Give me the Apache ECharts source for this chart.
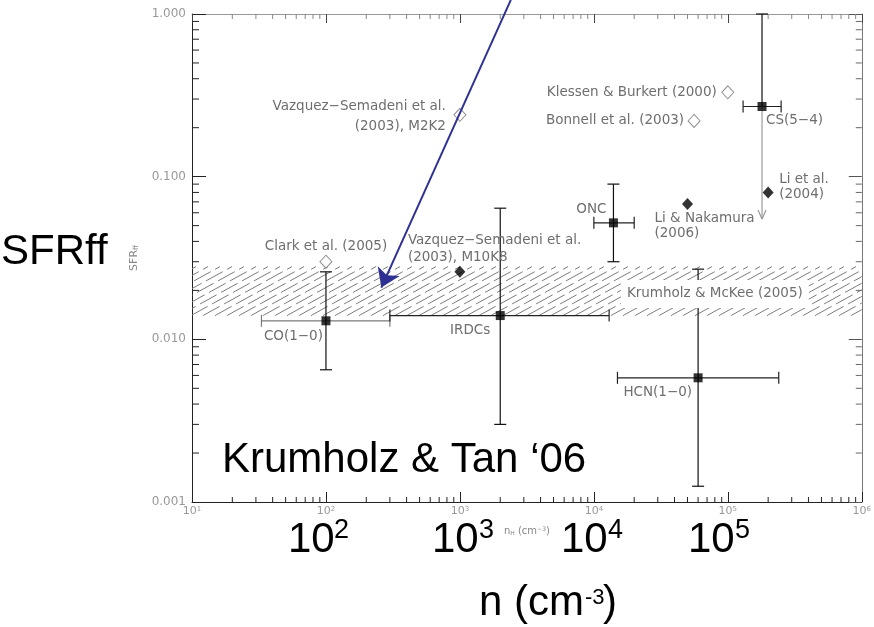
<!DOCTYPE html>
<html>
<head>
<meta charset="utf-8">
<script src="https://cdn.jsdelivr.net/npm/echarts@6/dist/echarts.min.js"></script>
<style>
  html, body { margin: 0; padding: 0; background: #fff; }
  #chart { width: 874px; height: 627px; }
</style>
</head>
<body>
<div id="chart"></div>
<script>
// ---- axis ticks -------------------------------------------------------
const xTickValues = [10, 100, 1000, 10000, 100000, 1000000];
const yTickValues = [0.001, 0.01, 0.1, 1];

// ---- observed clouds (filled squares with ranges) ---------------------
const obsNames     = ['CO(1−0)', 'IRDCs', 'ONC', 'HCN(1−0)', 'CS(5−4)'];
const obsN         = [100, 2000, 14000, 60000, 180000];
const obsSfr       = [0.013, 0.014, 0.052, 0.0058, 0.27];
const obsNLow      = [33, 300, 10000, 15000, 130000];
const obsNHigh     = [300, 13000, 20000, 240000, 250000];
const obsSfrLow    = [0.0065, 0.003, 0.03, 0.00125, 0.055];
const obsSfrHigh   = [0.026, 0.064, 0.09, 0.027, 1.0];
const obsUpperOnly = [false, false, false, false, true];

// ---- simulations, filled diamonds -------------------------------------
const simNames = ['Vazquez−Semadeni et al.\n(2003), M10K8', 'Li & Nakamura\n(2006)', 'Li et al.\n(2004)'];
const simN     = [1000, 50000, 200000];
const simSfr   = [0.026, 0.068, 0.08];

// ---- simulations, open diamonds ---------------------------------------
const openNames = ['Vazquez−Semadeni et al.\n(2003), M2K2', 'Klessen & Burkert (2000)', 'Bonnell et al. (2003)', 'Clark et al. (2005)'];
const openN     = [1000, 100000, 56000, 100];
const openSfr   = [0.24, 0.33, 0.22, 0.03];

// ---- Krumholz & McKee (2005) prediction band --------------------------
const bandName = 'Krumholz & McKee (2005)';
const bandSfr  = [0.014, 0.028];
const bandLabelPoint = [80000, 0.019];

// ---- highlighted arrow ------------------------------------------------
const arrowFrom = [2400, 1.22];
const arrowTo   = [259, 0.0208];

// ---- label placement (pixel offsets from each marker) ------------------
const labelLayout = {
  'CO(1−0)':                 { dx: -3,  dy: 16,  align: 'right' },
  'IRDCs':                   { dx: -10, dy: 15,  align: 'right' },
  'ONC':                     { dx: -7,  dy: -13, align: 'right' },
  'HCN(1−0)':                { dx: -6,  dy: 15,  align: 'right' },
  'CS(5−4)':                 { dx: 4,   dy: 14,  align: 'left' },
  'Vazquez−Semadeni et al.\n(2003), M10K8': { dx: -52, dy: -23, align: 'left', lh: 16.5 },
  'Li & Nakamura\n(2006)':   { dx: -33, dy: 22,  align: 'left', lh: 15.5 },
  'Li et al.\n(2004)':       { dx: 11,  dy: -5,  align: 'left', lh: 15 },
  'Vazquez−Semadeni et al.\n(2003), M2K2': { dx: -14, dy: 2, align: 'right', lh: 20 },
  'Klessen & Burkert (2000)': { dx: -11, dy: 0, align: 'right' },
  'Bonnell et al. (2003)':   { dx: -10, dy: 0,   align: 'right' },
  'Clark et al. (2005)':     { dx: 0,   dy: -15, align: 'center' }
};

const LABEL_FONT = '"DejaVu Sans", sans-serif';
const BIG_FONT = '"Liberation Sans", Arial, sans-serif';
const LABEL_COLOR = '#6e6e6e';
const LABEL_SIZE = 13.5;

// minor tick values (2..9 within each decade)
function minorTicks(decades) {
  const out = [];
  decades.forEach(d => { for (let m = 2; m <= 9; m++) out.push(m * d); });
  return out;
}
const xMinor = minorTicks(xTickValues.slice(0, -1));
const yMinor = minorTicks(yTickValues.slice(0, -1));

function seg(x1, y1, x2, y2, style) {
  return { type: 'line', shape: { x1, y1, x2, y2 }, style };
}

// diagonal dashed hatching filling the band across the plot width
function renderHatch(params, api) {
  const cs = params.coordSys;
  const top = api.coord([api.value(0), api.value(3)])[1];
  const bot = api.coord([api.value(0), api.value(1)])[1];
  const x0 = cs.x, x1 = cs.x + cs.width;
  const slope = 0.55, step = 12;
  const stretch = Math.sqrt(1 + slope * slope);
  const run = (bot - top) / slope;
  const children = [];
  for (let c = x0 - run + 4; c < x1; c += step) {
    let ax = c, ay = bot, bx = c + run, by = top;
    if (ax < x0) { ay = bot - (x0 - c) * slope; ax = x0; }
    if (bx > x1) { by = bot - (x1 - c) * slope; bx = x1; }
    if (bx <= ax) continue;
    // keep the dash phase of every stroke anchored at the band's lower edge
    children.push(seg(ax, ay, bx, by, {
      stroke: '#7c7c7c', lineWidth: 1, lineDash: [19, 5],
      lineDashOffset: (ax - c) * stretch
    }));
  }
  return { type: 'group', children };
}

// error bars: horizontal density range, vertical SFR range
function renderErrors(params, api) {
  const i = params.dataIndex;
  const c = api.coord([api.value(0), api.value(1)]);
  const l = api.coord([api.value(2), api.value(1)]);
  const r = api.coord([api.value(3), api.value(1)]);
  const b = api.coord([api.value(0), api.value(4)]);
  const t = api.coord([api.value(0), api.value(5)]);
  const hs = { stroke: i === 0 ? '#7a7a7a' : '#222', lineWidth: 1.2 };
  const vs = { stroke: '#111', lineWidth: 1.2 };
  const cap = 6;
  const ch = [
    seg(l[0], c[1], r[0], c[1], hs),
    seg(l[0], c[1] - cap, l[0], c[1] + cap, hs),
    seg(r[0], c[1] - cap, r[0], c[1] + cap, hs),
    seg(c[0], t[1], c[0], c[1], vs),
    seg(c[0] - cap, t[1], c[0] + cap, t[1], vs)
  ];
  if (obsUpperOnly[i]) {
    const gs = { stroke: '#9a9a9a', lineWidth: 1.2 };
    ch.push(seg(c[0], c[1], c[0], b[1], gs));
    ch.push(seg(c[0] - 4, b[1] - 9, c[0], b[1], gs));
    ch.push(seg(c[0] + 4, b[1] - 9, c[0], b[1], gs));
  } else {
    ch.push(seg(c[0], c[1], c[0], b[1], vs));
    ch.push(seg(c[0] - cap, b[1], c[0] + cap, b[1], vs));
  }
  return { type: 'group', children: ch };
}

// point labels
const labelNames = [].concat(obsNames, simNames, openNames);
const labelData = [].concat(
  obsN.map((n, i) => [n, obsSfr[i], i]),
  simN.map((n, i) => [n, simSfr[i], obsNames.length + i]),
  openN.map((n, i) => [n, openSfr[i], obsNames.length + simNames.length + i])
);
function renderLabel(params, api) {
  const name = labelNames[api.value(2)];
  const L = labelLayout[name];
  const p = api.coord([api.value(0), api.value(1)]);
  return {
    type: 'text',
    x: p[0] + L.dx,
    y: p[1] + L.dy,
    style: {
      text: name,
      align: L.align,
      verticalAlign: 'middle',
      lineHeight: L.lh || 16,
      fontSize: LABEL_SIZE,
      fontFamily: LABEL_FONT,
      fill: LABEL_COLOR
    }
  };
}

function renderBandLabel(params, api) {
  const p = api.coord([api.value(0), api.value(1)]);
  return {
    type: 'text',
    x: p[0],
    y: p[1],
    style: {
      text: bandName,
      align: 'center',
      verticalAlign: 'middle',
      fontSize: LABEL_SIZE,
      fontFamily: LABEL_FONT,
      fill: LABEL_COLOR,
      backgroundColor: '#fff',
      padding: [7, 6, 7, 6]
    }
  };
}

function renderXMinor(params, api) {
  const cs = params.coordSys;
  const px = api.coord([api.value(0), 1])[0];
  const bottom = cs.y + cs.height;
  return { type: 'group', children: [
    seg(px, bottom, px, bottom - 5, { stroke: '#222', lineWidth: 1 }),
    seg(px, cs.y, px, cs.y + 5, { stroke: '#888', lineWidth: 1 })
  ]};
}
function renderYMinor(params, api) {
  const cs = params.coordSys;
  const py = api.coord([10, api.value(1)])[1];
  const right = cs.x + cs.width;
  return { type: 'group', children: [
    seg(cs.x, py, cs.x + 7, py, { stroke: '#222', lineWidth: 1 }),
    seg(right, py, right - 6, py, { stroke: '#666', lineWidth: 1 })
  ]};
}

const tickRich = {
  b: { fontSize: 11, color: '#999', fontFamily: LABEL_FONT },
  s: { fontSize: 7, color: '#999', fontFamily: LABEL_FONT, verticalAlign: 'top' }
};

const logX = {
  type: 'log', logBase: 10, min: xTickValues[0], max: xTickValues[xTickValues.length - 1],
  splitLine: { show: false }
};
const logY = {
  type: 'log', logBase: 10, min: yTickValues[0], max: yTickValues[yTickValues.length - 1],
  splitLine: { show: false }
};

// large slide annotations
function bigText(text, x, y, size) {
  return {
    type: 'text', x, y, z: 100,
    style: { text, fontSize: size, fontFamily: BIG_FONT, fill: '#000', align: 'left', verticalAlign: 'middle' }
  };
}

const option = {
  backgroundColor: '#fff',
  animation: false,
  grid: { left: 192, right: 12, top: 14, bottom: 125 },
  xAxis: [
    Object.assign({}, logX, {
      position: 'bottom',
      axisLine: { lineStyle: { color: '#222', width: 1 } },
      axisTick: { inside: true, length: 10, lineStyle: { color: '#222' } },
      axisLabel: {
        margin: 4,
        formatter: v => '{b|10}{s|' + Math.round(Math.log10(v)) + '}',
        rich: tickRich
      },
      name: '{a|n}{sub|H}{a| (cm}{sup|−3}{a|)}',
      nameLocation: 'middle',
      nameGap: 24,
      nameTextStyle: {
        rich: {
          a: { fontSize: 10, color: '#888', fontFamily: LABEL_FONT },
          sub: { fontSize: 6, color: '#888', fontFamily: LABEL_FONT, verticalAlign: 'bottom' },
          sup: { fontSize: 6, color: '#888', fontFamily: LABEL_FONT, verticalAlign: 'top' }
        }
      }
    }),
    Object.assign({}, logX, {
      position: 'top',
      axisLine: { lineStyle: { color: '#999', width: 1 } },
      axisTick: { inside: true, length: 9, lineStyle: { color: '#444' } },
      axisLabel: { show: false }
    })
  ],
  yAxis: [
    Object.assign({}, logY, {
      position: 'left',
      axisLine: { lineStyle: { color: '#222', width: 1 } },
      axisTick: { inside: true, length: 14, lineStyle: { color: '#222' } },
      axisLabel: {
        margin: 6,
        formatter: v => Number(v).toFixed(3),
        color: '#999', fontSize: 12, fontFamily: LABEL_FONT
      },
      name: '{a|SFR}{b|ff}',
      nameLocation: 'middle',
      nameGap: 52,
      nameTextStyle: {
        rich: {
          a: { fontSize: 11, color: '#888', fontFamily: LABEL_FONT },
          b: { fontSize: 7, color: '#888', fontFamily: LABEL_FONT, verticalAlign: 'bottom' }
        }
      }
    }),
    Object.assign({}, logY, {
      position: 'right',
      axisLine: { lineStyle: { color: '#777', width: 1 } },
      axisTick: { inside: true, length: 13, lineStyle: { color: '#555' } },
      axisLabel: { show: false }
    })
  ],
  series: [
    {
      type: 'custom', name: bandName, z: 1, silent: true,
      renderItem: renderHatch,
      encode: { x: [0, 2], y: [1, 3] },
      data: [[xTickValues[0], bandSfr[0], xTickValues[xTickValues.length - 1], bandSfr[1]]]
    },
    {
      type: 'custom', name: 'minor x ticks', z: 2, silent: true,
      renderItem: renderXMinor,
      data: xMinor.map(v => [v, 1])
    },
    {
      type: 'custom', name: 'minor y ticks', z: 2, silent: true,
      renderItem: renderYMinor,
      data: yMinor.map(v => [10, v])
    },
    {
      type: 'custom', name: 'ranges', z: 3, silent: true,
      renderItem: renderErrors,
      encode: { x: [0, 2, 3], y: [1, 4, 5] },
      data: obsN.map((n, i) => [n, obsSfr[i], obsNLow[i], obsNHigh[i], obsSfrLow[i], obsSfrHigh[i]])
    },
    {
      type: 'scatter', name: 'observations', z: 4,
      symbol: 'rect', symbolSize: 9,
      itemStyle: { color: '#000' },
      data: obsN.map((n, i) => [n, obsSfr[i]])
    },
    {
      type: 'scatter', name: 'simulations', z: 4,
      symbol: 'diamond', symbolSize: [11, 12],
      itemStyle: { color: '#000' },
      data: simN.map((n, i) => [n, simSfr[i]])
    },
    {
      type: 'scatter', name: 'simulations (open)', z: 4,
      symbol: 'diamond', symbolSize: [12, 13],
      itemStyle: { color: '#fff', borderColor: '#777', borderWidth: 1 },
      data: openN.map((n, i) => [n, openSfr[i]])
    },
    {
      type: 'custom', name: 'labels', z: 5, silent: true,
      renderItem: renderLabel,
      data: labelData
    },
    {
      type: 'custom', name: 'band label', z: 6, silent: true,
      renderItem: renderBandLabel,
      data: [bandLabelPoint]
    },
    {
      type: 'lines', name: 'arrow', coordinateSystem: 'cartesian2d', z: 7,
      clip: false, silent: true,
      symbol: ['none', 'arrow'], symbolSize: [12, 18],
      lineStyle: { color: '#2E3192', width: 2, opacity: 1 },
      data: [{ coords: [arrowFrom, arrowTo] }]
    }
  ],
  graphic: [
    bigText('SFRff', 1, 252, 42),
    bigText('Krumholz & Tan ‘06', 222, 460, 42),
    bigText('10', 288, 540.5, 42), bigText('2', 334, 531, 27),
    bigText('10', 432, 540.5, 42), bigText('3', 479, 531, 27),
    bigText('10', 561, 540.5, 42), bigText('4', 608, 531, 27),
    bigText('10', 688, 540.5, 42), bigText('5', 735, 531, 27),
    bigText('n (cm', 479, 603, 42), bigText('-3', 585, 598, 22), bigText(')', 603, 603, 42)
  ]
};

const chart = echarts.init(document.getElementById('chart'));
chart.setOption(option);
</script>
</body>
</html>
